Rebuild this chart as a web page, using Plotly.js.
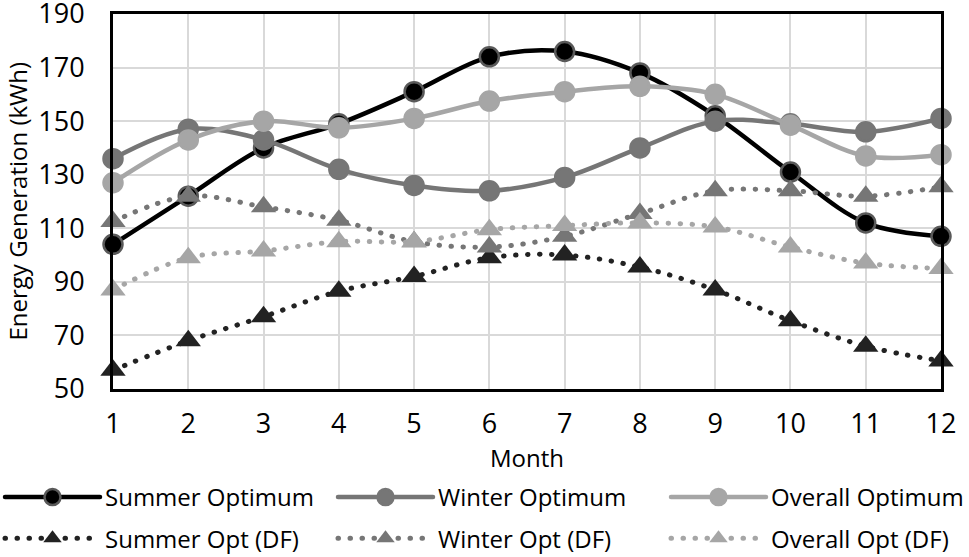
<!DOCTYPE html>
<html>
<head>
<meta charset="utf-8">
<script src="https://cdn.plot.ly/plotly-3.0.1.min.js"></script>
<style>
	html, body { margin: 0; padding: 0; background: #fff; }
	#chart { width: 969px; height: 557px; }
	/* round dots for the dotted series */
	.js-line { stroke-linecap: round; }
</style>
</head>
<body>
<div id="chart"></div>
<script>
// months
var months = [1, 2, 3, 4, 5, 6, 7, 8, 9, 10, 11, 12];

// energy generation, kWh
var summerOpt   = [104, 122, 140, 149, 161, 174, 176, 168, 152, 131, 112, 107];
var winterOpt   = [136, 147, 143, 132, 126, 124, 129, 140, 150, 149, 146, 151];
var overallOpt  = [127, 143, 150, 147.5, 151, 157.5, 161, 163, 160, 148.5, 137, 137.5];
var summerDF    = [57, 68, 77, 86.5, 92, 99, 100, 95.5, 87, 75.5, 66, 60.5];
var winterDF    = [112.5, 122, 118, 113, 105, 103, 107, 115.5, 124, 124, 122, 125.5];
var overallDF   = [87, 99, 101.5, 105, 105, 109.5, 111, 112, 110.5, 103, 97, 95];

var names = ['Summer Optimum', 'Winter Optimum', 'Overall Optimum',
	'Summer Opt (DF)', 'Winter Opt (DF)', 'Overall Opt (DF)'];
var yTitle = 'Energy Generation (kWh)';

var FONT = 'Open Sans, sans-serif';
var DOTS = '0.5px,11.5px';
var legendIds = ['legend', 'legend2', 'legend3'];

//solid line with circles
function solid(y, i, col, edge){
	return {
		x: months,
		y: y,
		type: 'scatter',
		mode: 'lines+markers',
		name: names[i],
		legend: legendIds[i],
		legendgroup: 'g' + i,
		cliponaxis: false,
		line: {color: col, width: 4.5, shape: 'spline'},
		marker: {symbol: 'circle', size: 19, color: col, line: {color: edge, width: 2.5}}
	};
}

//dotted line with triangles
function dotted(y, i, col){
	return {
		x: months,
		y: y,
		type: 'scatter',
		mode: 'lines+markers',
		name: names[i],
		legend: legendIds[i - 3],
		legendgroup: 'g' + i,
		cliponaxis: false,
		line: {color: col, width: 5, shape: 'spline', dash: DOTS},
		marker: {symbol: 'triangle-up', size: 22, color: col, line: {width: 0}}
	};
}

var data = [
	solid(summerOpt, 0, '#000000', '#595959'),
	solid(winterOpt, 1, '#767676', '#767676'),
	solid(overallOpt, 2, '#a6a6a6', '#a6a6a6'),
	dotted(summerDF, 3, '#222222'),
	dotted(winterDF, 4, '#767676'),
	dotted(overallDF, 5, '#a6a6a6')
];

//one legend per column
function legendCol(px){
	return {
		orientation: 'v',
		xref: 'container', x: px / 969, xanchor: 'left',
		yref: 'container', y: 1 - 475 / 557, yanchor: 'top',
		itemwidth: 95,
		tracegroupgap: 7,
		bgcolor: 'rgba(0,0,0,0)',
		font: {family: FONT, size: 24, color: '#000'}
	};
}

var layout = {
	width: 969,
	height: 557,
	margin: {l: 113, r: 28, t: 14, b: 168, autoexpand: false},
	paper_bgcolor: '#fff',
	plot_bgcolor: '#fff',
	font: {family: FONT, size: 24, color: '#000'},
	showlegend: true,
	xaxis: {
		range: [1, 12],
		dtick: 1,
		tick0: 1,
		showgrid: true,
		gridcolor: '#d9d9d9',
		gridwidth: 2,
		zeroline: false,
		showline: true,
		mirror: true,
		linecolor: '#000',
		linewidth: 3,
		ticks: '',
		ticklabelstandoff: 9,
		ticklabeloverflow: 'allow',
		tickfont: {family: FONT, size: 27, color: '#000'},
		title: {text: 'Month', standoff: 6, font: {family: FONT, size: 24, color: '#000'}}
	},
	yaxis: {
		range: [50, 190],
		dtick: 20,
		tick0: 50,
		showgrid: true,
		gridcolor: '#d9d9d9',
		gridwidth: 2,
		zeroline: false,
		showline: true,
		mirror: true,
		linecolor: '#000',
		linewidth: 3,
		ticks: '',
		ticklabelstandoff: 20,
		ticklabeloverflow: 'allow',
		tickfont: {family: FONT, size: 27, color: '#000'}
	},
	// y title as a rotated annotation left of the tick labels
	annotations: [{
		text: yTitle,
		xref: 'paper', x: -96 / 828, xanchor: 'center',
		yref: 'paper', y: 0.5, yanchor: 'middle',
		textangle: -90,
		showarrow: false,
		font: {family: FONT, size: 24, color: '#000'}
	}],
	legend: legendCol(0),
	legend2: legendCol(333),
	legend3: legendCol(666)
};

Plotly.newPlot('chart', data, layout, {displayModeBar: false, staticPlot: true});
</script>
</body>
</html>
